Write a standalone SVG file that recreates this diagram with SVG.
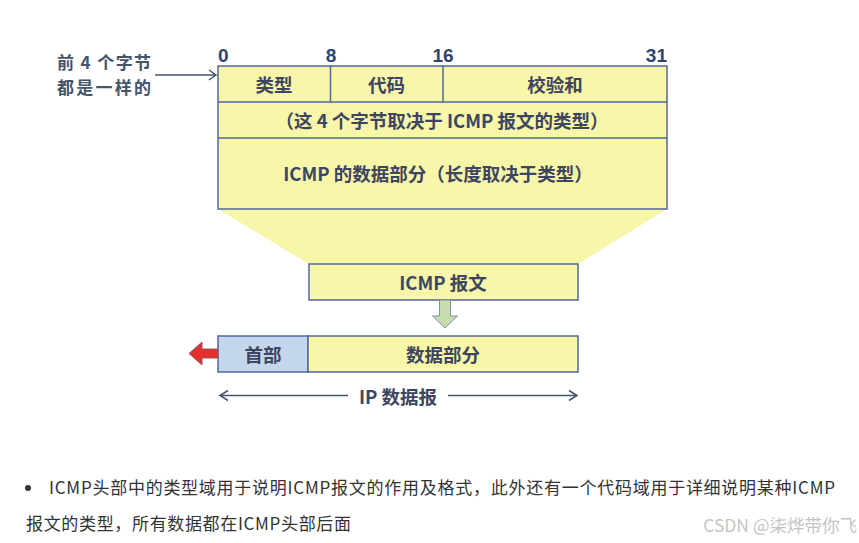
<svg xmlns="http://www.w3.org/2000/svg" width="859" height="543" viewBox="0 0 859 543">
<style>
.box{fill:#f8f6a8;stroke:#52679a;stroke-width:1.5}
.hdr{fill:#c3d6ec;stroke:#52679a;stroke-width:1.5}
.t{font-family:"Noto Sans CJK SC","Noto Sans",sans-serif;font-weight:700;font-size:18.5px;fill:#3d4560;text-anchor:middle;dominant-baseline:central}
.num{font-family:"Liberation Sans","Noto Sans",sans-serif;font-weight:700;font-size:19px;fill:#2e4470}
.lbl{font-family:"Noto Sans CJK SC","Noto Sans",sans-serif;font-weight:700;font-size:17px;fill:#44546a}
.ln{stroke:#44546a;stroke-width:1.5;fill:none}
.body{font-family:"Noto Sans CJK SC","Noto Sans",sans-serif;font-size:17px;fill:#333}
</style>
<rect width="859" height="543" fill="#fff"/>
<g id="bits">
<text class="num" x="218" y="62">0</text>
<text class="num" x="331" y="62" text-anchor="middle">8</text>
<text class="num" x="443" y="62" text-anchor="middle">16</text>
<text class="num" x="667" y="62" text-anchor="end">31</text>
</g>
<g id="label-left">
<text class="lbl" x="57" y="69" textLength="94" lengthAdjust="spacing">前 4 个字节</text>
<text class="lbl" x="57" y="94" textLength="94" lengthAdjust="spacing">都是一样的</text>
</g>
<g id="funnel"><polygon points="218,209 667,209 578,264 309,264" fill="#f8f6a8"/></g>
<g id="icmp-header">
<rect class="box" x="218" y="66" width="449" height="143"/>
<line class="box" x1="218" y1="102" x2="667" y2="102"/>
<line class="box" x1="218" y1="138" x2="667" y2="138"/>
<line class="box" x1="330.5" y1="66" x2="330.5" y2="102"/>
<line class="box" x1="443" y1="66" x2="443" y2="102"/>
<text class="t" x="274" y="84">类型</text>
<text class="t" x="386.5" y="84">代码</text>
<text class="t" x="555" y="84">校验和</text>
<text class="t" x="442" y="120">（这 4 个字节取决于 ICMP 报文的类型）</text>
<text class="t" x="438" y="173">ICMP 的数据部分（长度取决于类型）</text>
</g>
<g id="icmp-msg">
<rect class="box" x="309" y="264" width="269" height="36"/>
<text class="t" x="443" y="282">ICMP 报文</text>
</g>
<g id="ip-datagram">
<rect class="hdr" x="218" y="336" width="90" height="36"/>
<rect class="box" x="308" y="336" width="270" height="36"/>
<text class="t" x="263" y="354">首部</text>
<text class="t" x="443" y="354">数据部分</text>
</g>
<g id="connectors">
<line class="ln" x1="155" y1="75" x2="216" y2="75"/>
<polyline class="ln" points="209,70 216,75 209,80"/>
<polygon points="439.5,300 450.5,300 450.5,316 457.5,316 445,328 432.5,316 439.5,316" fill="#c6dcae" stroke="#7f93a8" stroke-width="1"/>
<polygon points="218,349 202,349 202,342 189,353.5 202,365 202,358 218,358" fill="#e3302b" stroke="#8a5a6a" stroke-width="1"/>
<line class="ln" x1="220" y1="395.5" x2="348" y2="395.5"/>
<polyline class="ln" points="228,390.5 220,395.5 228,400.5"/>
<line class="ln" x1="448" y1="395.5" x2="577" y2="395.5"/>
<polyline class="ln" points="569,390.5 577,395.5 569,400.5"/>
<text class="t" x="398" y="396">IP 数据报</text>
</g>
<g id="notes">
<circle cx="28" cy="488" r="3" fill="#333"/>
<text class="body" x="49" y="494" textLength="786" lengthAdjust="spacing">ICMP头部中的类型域用于说明ICMP报文的作用及格式，此外还有一个代码域用于详细说明某种ICMP</text>
<text class="body" x="26" y="530" textLength="325" lengthAdjust="spacing">报文的类型，所有数据都在ICMP头部后面</text>
<text x="857" y="532" text-anchor="end" font-family="Noto Sans CJK SC, Noto Sans, sans-serif" font-size="17.5" fill="#c4c4c4">CSDN @柒烨带你飞</text>
</g>
</svg>
